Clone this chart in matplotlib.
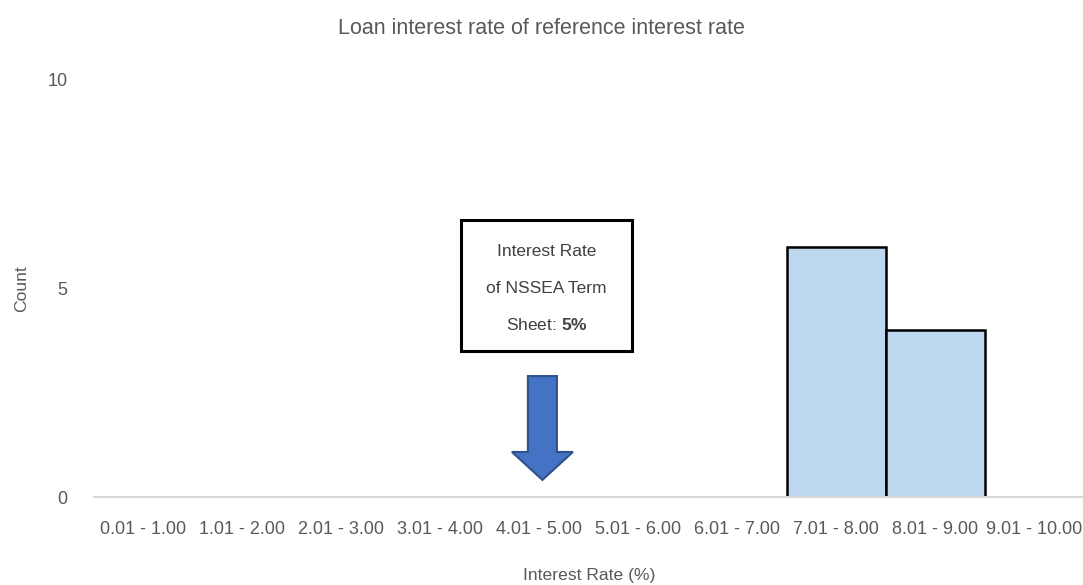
import matplotlib
matplotlib.use("Agg")
import matplotlib.pyplot as plt
from matplotlib.patches import FancyArrow, Rectangle

# interest rate bins and number of loans in each
bins = ["0.01 - 1.00", "1.01 - 2.00", "2.01 - 3.00", "3.01 - 4.00", "4.01 - 5.00",
        "5.01 - 6.00", "6.01 - 7.00", "7.01 - 8.00", "8.01 - 9.00", "9.01 - 10.00"]
counts = [0, 0, 0, 0, 0, 0, 0, 6, 4, 0]
yticks = [0, 5, 10]

# term sheet rate, placed on the 4.01 - 5.00 bin
term_sheet_pos = 4.03
term_sheet_lines = ["Interest Rate", "of NSSEA Term", "Sheet: $\\mathbf{5\\%}$"]

plt.rcParams['font.family'] = ['Liberation Sans', 'DejaVu Sans']
plt.rcParams['mathtext.fontset'] = 'custom'
plt.rcParams['mathtext.rm'] = 'Liberation Sans'
plt.rcParams['mathtext.bf'] = 'Liberation Sans:bold'
text_color = '#595959'

fig = plt.figure(figsize=(10.83, 5.85), dpi=100)
ax = fig.add_axes([0.0868, 0.1504, 0.914, 0.713])

x = list(range(len(bins)))
ax.bar(x, counts, width=1.0, color='#bdd7ee', edgecolor='black', linewidth=1.8, zorder=2)

ax.set_xlim(-0.5, len(bins) - 0.5)
ax.set_ylim(0, 10)
ax.set_xticks(x)
ax.set_xticklabels(bins, fontsize=13, color=text_color)
ax.set_yticks(yticks)
ax.set_yticklabels([str(v) for v in yticks], fontsize=13, color=text_color)
ax.tick_params(axis='both', length=0)
ax.tick_params(axis='x', pad=17)
ax.tick_params(axis='y', pad=19)

for side in ['top', 'right', 'left']:
    ax.spines[side].set_visible(False)
ax.spines['bottom'].set_color('#d9d9d9')
ax.spines['bottom'].set_linewidth(1.5)

ax.set_xlabel("Interest Rate (%)", fontsize=12.6, color=text_color, labelpad=22)
ax.set_ylabel("Count", fontsize=12.6, color=text_color, labelpad=13)
fig.text(0.5, 0.952, "Loan interest rate of reference interest rate",
         ha='center', va='center', fontsize=15.5, color=text_color)

# callout box for the term sheet rate
ax.add_patch(Rectangle((3.207, 3.50), 1.727, 3.14, facecolor='white',
                       edgecolor='black', linewidth=2.2, zorder=3))
for yy, line in zip([5.875, 5.01, 4.12], term_sheet_lines):
    ax.text(4.07, yy, line, ha='center', va='center', fontsize=12.5,
            color='#404040', zorder=4)

# downward arrow pointing at the bin
arrow = FancyArrow(term_sheet_pos, 2.9, 0, -2.49, width=0.293, head_width=0.616,
                   head_length=0.67, length_includes_head=True,
                   facecolor='#4472c4', edgecolor='#2f528f', linewidth=1.5, zorder=3)
ax.add_patch(arrow)

fig.savefig("out.png", dpi=100)
